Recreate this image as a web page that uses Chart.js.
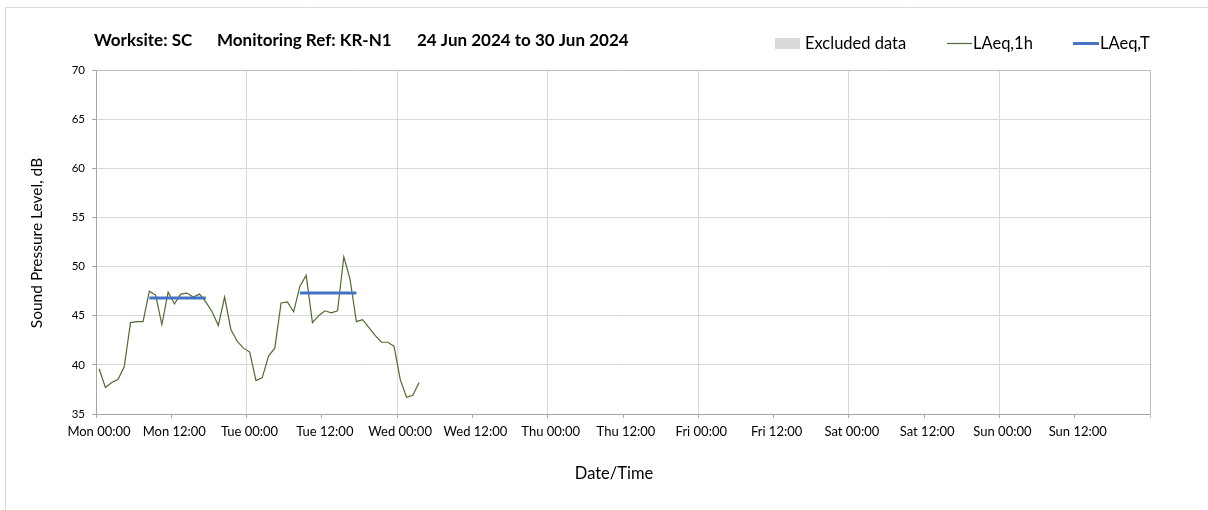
<!DOCTYPE html>
<html>
<head>
<meta charset="utf-8">
<script src="https://cdn.jsdelivr.net/npm/chart.js@4.4.1/dist/chart.umd.min.js"></script>
<style>
  html, body { margin: 0; padding: 0; background: #ffffff; }
  #wrap { position: relative; width: 1208px; height: 510px; }
</style>
</head>
<body>
<div id="wrap"><canvas id="noiseChart" width="1208" height="510"></canvas></div>
<script>
// Hourly LAeq,1h readings, hours counted from Mon 00:00 (each value sits at the middle of its hour)
const firstHourMid = 0.5;
const laeq1h = [
  39.6, 37.7, 38.2, 38.5, 39.8, 44.3, 44.4, 44.4, 47.5, 47.1,
  44.1, 47.4, 46.2, 47.2, 47.3, 46.9, 47.2, 46.4, 45.4, 44.0,
  46.9, 43.6, 42.4, 41.7, 41.3, 38.4, 38.7, 40.9, 41.7, 46.3,
  46.4, 45.4, 48.0, 49.1, 44.3, 45.0, 45.5, 45.3, 45.5, 51.0,
  48.7, 44.4, 44.6, 43.8, 43.0, 42.3, 42.3, 41.9, 38.5, 36.7,
  36.9, 38.2
];

// LAeq,T over each daytime period (start/end hour marks, level in dB)
const periodStart = [8.5, 32.5];
const periodEnd   = [17.5, 41.5];
const periodLevel = [46.8, 47.3];

// Axis labelling
const dayNames = ['Mon', 'Tue', 'Wed', 'Thu', 'Fri', 'Sat', 'Sun'];
const weekHours = 168;
const yMin = 35, yMax = 70, yStep = 5;

const titleParts = ['Worksite: SC', 'Monitoring Ref: KR-N1', '24 Jun 2024 to 30 Jun 2024'];
const legendLabels = ['Excluded data', 'LAeq,1h', 'LAeq,T'];

const hourlyPoints = laeq1h.map((v, i) => ({ x: firstHourMid + i, y: v }));
const periodPoints = [];
periodStart.forEach((s, i) => {
  if (i > 0) periodPoints.push({ x: (periodEnd[i - 1] + s) / 2, y: null });
  periodPoints.push({ x: s, y: periodLevel[i] });
  periodPoints.push({ x: periodEnd[i], y: periodLevel[i] });
});

const FONT = 'Lato, "Open Sans", sans-serif';
const GREEN = '#4f6b2f';
const BLUE = '#4472c4';

const decorations = {
  id: 'decorations',
  beforeDraw(chart) {
    const c = chart.ctx;
    c.save();
    c.fillStyle = '#ffffff';
    c.fillRect(0, 0, chart.width, chart.height);
    // outer frame
    c.strokeStyle = '#d9d9d9';
    c.lineWidth = 1;
    c.beginPath();
    c.moveTo(5.5, chart.height);
    c.lineTo(5.5, 7.5);
    c.lineTo(chart.width, 7.5);
    c.stroke();
    c.restore();
  },
  afterDraw(chart) {
    const c = chart.ctx;
    const a = chart.chartArea;
    c.save();
    // plot area border (top and right)
    c.strokeStyle = '#bfbfbf';
    c.lineWidth = 1;
    c.beginPath();
    c.moveTo(a.left, a.top + 0.5);
    c.lineTo(a.right + 0.5, a.top + 0.5);
    c.lineTo(a.right + 0.5, a.bottom + 4);
    c.stroke();

    // title
    c.fillStyle = '#000000';
    c.textBaseline = 'middle';
    c.textAlign = 'left';
    c.font = 'bold 17px ' + FONT;
    const titleX = [94, 217, 417];
    titleParts.forEach((t, i) => c.fillText(t, titleX[i], 41));

    // legend
    c.font = '16.5px ' + FONT;
    c.fillStyle = '#d9d9d9';
    c.fillRect(775, 38, 25, 11);
    c.fillStyle = '#000000';
    c.fillText(legendLabels[0], 805, 44);

    c.strokeStyle = GREEN;
    c.lineWidth = 1.2;
    c.beginPath(); c.moveTo(947, 43.5); c.lineTo(972, 43.5); c.stroke();
    c.fillText(legendLabels[1], 973, 44);

    c.strokeStyle = BLUE;
    c.lineWidth = 3;
    c.beginPath(); c.moveTo(1073, 43.5); c.lineTo(1099, 43.5); c.stroke();
    c.fillText(legendLabels[2], 1100, 44);

    // axis titles
    c.font = '16.5px ' + FONT;
    c.textAlign = 'center';
    c.fillText('Date/Time', 614, 474);
    c.font = '15.5px ' + FONT;
    c.translate(37, 243);
    c.rotate(-Math.PI / 2);
    c.fillText('Sound Pressure Level, dB', 0, 0);
    c.restore();
  }
};

new Chart(document.getElementById('noiseChart'), {
  type: 'line',
  data: {
    datasets: [
      {
        label: 'LAeq,1h',
        data: hourlyPoints,
        borderColor: GREEN,
        borderWidth: 1.2,
        pointRadius: 0,
        tension: 0,
        order: 2
      },
      {
        label: 'LAeq,T',
        data: periodPoints,
        borderColor: BLUE,
        borderWidth: 3,
        pointRadius: 0,
        spanGaps: false,
        order: 1
      }
    ]
  },
  options: {
    responsive: false,
    animation: false,
    layout: { padding: { left: 0, top: 70, right: 58, bottom: 0 } },
    plugins: {
      legend: { display: false },
      title: { display: false },
      tooltip: { enabled: false }
    },
    scales: {
      x: {
        type: 'linear',
        min: 0,
        max: weekHours,
        afterFit(scale) { scale.height = 96; },
        ticks: {
          stepSize: 12,
          autoSkip: false,
          maxRotation: 0,
          labelOffset: 3,
          padding: 6,
          color: '#000000',
          font: { family: FONT, size: 13 },
          callback(value) {
            if (value >= weekHours) return '';
            const day = dayNames[Math.floor(value / 24)];
            return day + (value % 24 === 0 ? ' 00:00' : ' 12:00');
          }
        },
        grid: {
          color: ctx => (ctx.tick && ctx.tick.value % 24 === 0 ? '#d9d9d9' : 'rgba(0,0,0,0)'),
          tickColor: '#a6a6a6',
          tickLength: 4,
          lineWidth: 1
        },
        border: { display: true, color: '#a6a6a6', width: 1 }
      },
      y: {
        min: yMin,
        max: yMax,
        afterFit(scale) { scale.width = 96; },
        ticks: {
          stepSize: yStep,
          padding: 7,
          color: '#000000',
          font: { family: FONT, size: 11.5 }
        },
        grid: {
          color: '#d9d9d9',
          tickColor: '#a6a6a6',
          tickLength: 4,
          lineWidth: 1
        },
        border: { display: true, color: '#a6a6a6', width: 1 }
      }
    }
  },
  plugins: [decorations]
});
</script>
</body>
</html>
